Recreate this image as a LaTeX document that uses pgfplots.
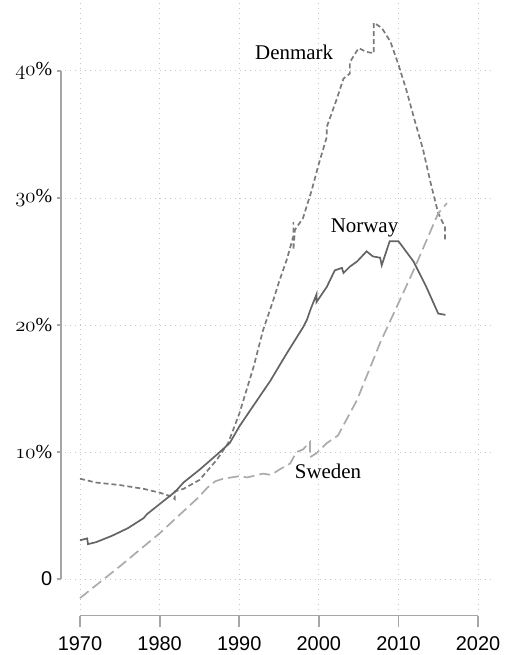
\documentclass[border=0pt]{standalone}
\usepackage{fontspec}
\usepackage{pgfplots}
\pgfplotsset{compat=1.18}
\newfontfamily\helv{Liberation Sans}
\newfontfamily\serif{Liberation Serif}
\newcommand{\osf}[1]{{\usefont{OML}{cmm}{m}{it}#1}}
\definecolor{dkc}{HTML}{7A7A7A}
\definecolor{noc}{HTML}{646464}
\definecolor{sec}{HTML}{ABABAB}
\definecolor{frc}{HTML}{A6A6A6}
\definecolor{grc}{HTML}{C8C8C8}
\begin{document}
\begin{tikzpicture}
\begin{axis}[
  x=7.96bp, y=12.7bp,
  xmin=1968.1, xmax=2021.7, ymin=-2.4, ymax=45.5,
  axis line style={draw=none},
  major tick length=0pt,
  xtick={1970,1980,1990,2000,2010,2020},
  ytick={0,10,20,30,40},
  xticklabels={1970,1980,1990,2000,2010,2020},
  yticklabels={{\helv 0\hspace{9bp}},{\osf{10}\serif\%},{\osf{20}\serif\%},{\osf{30}\serif\%},{\osf{40}\serif\%}},
  xticklabel style={font=\helv\fontsize{20}{24}\selectfont, anchor=base, yshift=-40.5bp},
  yticklabel style={font=\fontsize{20}{24}\selectfont, anchor=east, inner sep=0pt, xshift=-12.5bp},
  grid=major,
  grid style={grc, line width=1bp, dash pattern=on 1bp off 4bp},
  clip=false,
]
% Denmark
\addplot[dkc, line width=1.7bp, dash pattern=on 5bp off 3bp] coordinates {
 (1970,7.9) (1972,7.6) (1975,7.4) (1978,7.1) (1980,6.8) (1981.5,6.5)
 (1981.9,6.3) (1981.9,6.9) (1983,7.1) (1985,7.8) (1987.2,9.4) (1988.6,10.7)
 (1990,13.0) (1991.8,16.7) (1993,19.6) (1994.3,22.0) (1995,23.4) (1996,25.2)
 (1996.8,27.0) (1996.8,28.1) (1996.8,25.9) (1997,27.5) (1998,28.4) (1999.1,30.6)
 (2000,32.7) (2001,34.8) (2001,35.6) (2002.2,37.7) (2003.1,39.4) (2003.9,39.8)
 (2003.9,40.7) (2005,41.8) (2006,41.5) (2006.9,41.4) (2006.9,43.8) (2007.9,43.4)
 (2009,42.3) (2010,40.5) (2011,38.5) (2012,36.2) (2013.1,33.8) (2014,31.3)
 (2015,28.8) (2015.85,27.7) (2015.85,26.7)
};
% Norway
\addplot[noc, line width=1.7bp] coordinates {
 (1970,3.05) (1970.9,3.2) (1971,2.75) (1972,2.9) (1974,3.4) (1976,4.0)
 (1978,4.8) (1978.4,5.1) (1980,5.9) (1982,6.9) (1983,7.6) (1985,8.6)
 (1987.2,9.8) (1988.8,10.7) (1990,12.0) (1991.4,13.3) (1993.9,15.6)
 (1996,17.8) (1998,19.8) (1998.5,20.4) (1999,21.3) (1999.7,22.4) (1999.7,21.8)
 (2001,23.0) (2002,24.3) (2002.9,24.5) (2003.1,24.1) (2003.9,24.6) (2004.8,25.0)
 (2006,25.8) (2006.8,25.4) (2007.7,25.3) (2007.9,24.7) (2008.9,26.6)
 (2010,26.6) (2011.9,25.0) (2013.5,23.0) (2015,20.9) (2015.9,20.8)
};
% Sweden
\addplot[sec, line width=1.7bp, dash pattern=on 11bp off 5bp] coordinates {
 (1970,-1.5) (1975,1.0) (1980,3.6) (1985,6.5) (1986,7.2) (1987,7.7)
 (1988,7.9) (1990,8.1) (1991,8.0) (1993,8.3) (1994,8.2) (1995,8.6)
 (1996.4,9.1) (1997.2,10.0) (1998,10.2) (1998.9,10.8) (1998.9,9.6)
 (1999.7,9.9) (2001,10.7) (2002.4,11.3) (2004.8,14.1) (2007.7,18.6)
 (2011.9,24.3) (2015,28.8) (2016.1,29.6)
};
% range frames
\draw[frc, line width=1.8bp] (axis cs:1967.61,0) -- (axis cs:1967.61,40);
\foreach \v in {0,10,20,30,40}{
  \edef\tmp{\noexpand\draw[frc, line width=1.8bp] (axis cs:1967.61,\v) -- (axis cs:1967.05,\v);}\tmp
}
\draw[frc, line width=1.8bp] (axis cs:1970,-2.87) -- (axis cs:2020,-2.87);
\foreach \v in {1970,1980,1990,2000,2010,2020}{
  \edef\tmp{\noexpand\draw[frc, line width=1.8bp] (axis cs:\v,-2.87) -- (axis cs:\v,-3.74);}\tmp
}
\node[anchor=base, font=\serif\fontsize{21}{25}\selectfont] at (axis cs:1996.9,40.87) {Denmark};
\node[anchor=base, font=\serif\fontsize{21}{25}\selectfont] at (axis cs:2005.74,27.27) {Norway};
\node[anchor=base, font=\serif\fontsize{21}{25}\selectfont] at (axis cs:2001.16,7.93) {Sweden};
\coordinate (bl) at (axis cs:1959.95,-5.98);
\coordinate (tr) at (axis cs:2024.52,45.59);
\end{axis}
\pgfresetboundingbox
\path[use as bounding box] (bl) rectangle (tr);
\end{tikzpicture}
\end{document}
